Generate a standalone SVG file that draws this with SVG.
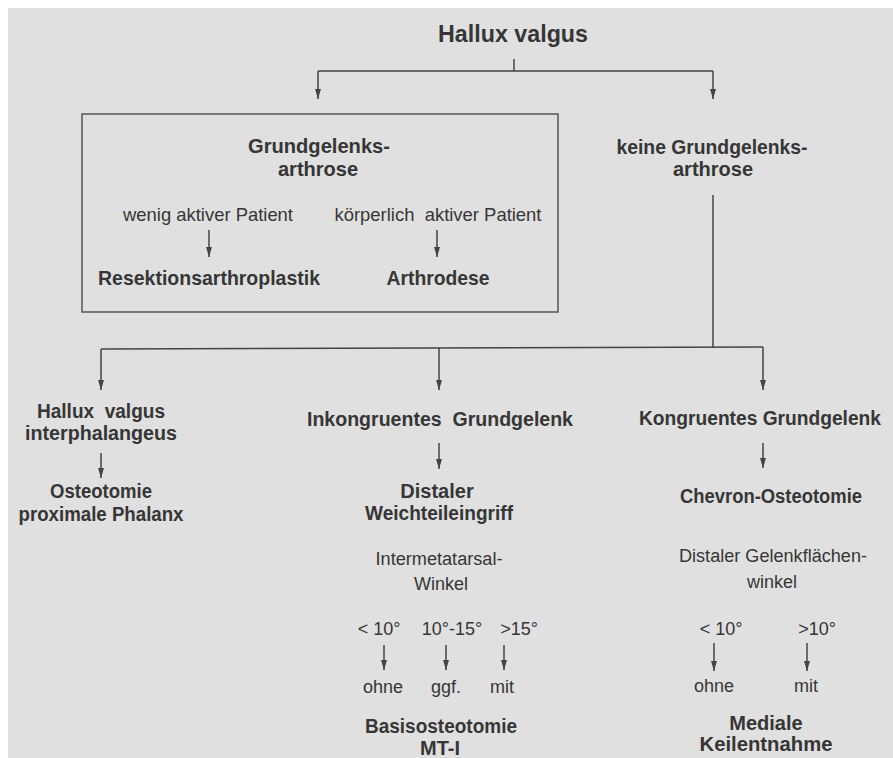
<svg xmlns="http://www.w3.org/2000/svg" width="893" height="758" viewBox="0 0 893 758">
<style>
text{font-family:"Liberation Sans",Arial,sans-serif;fill:#363636;text-anchor:middle}
.b{font-weight:bold;font-size:20px}
.bc{font-weight:bold;font-size:21px}
.t{font-weight:bold;font-size:24px}
.r{font-size:18px}
.rc{font-size:19px}
.ln{stroke:#444;stroke-width:1.5;fill:none}
.ar{stroke:#444;stroke-width:1.5;fill:none;marker-end:url(#ah)}
</style>
<defs>
<marker id="ah" viewBox="0 0 10 6" refX="10" refY="3" markerWidth="10" markerHeight="6" orient="auto" markerUnits="userSpaceOnUse">
<path d="M0,0 L10,3 L0,6 z" fill="#444"/>
</marker>
</defs>
<rect x="0" y="0" width="893" height="758" fill="#ffffff"/>
<rect x="8" y="8" width="885" height="750" fill="#e0e0e0"/>

<g id="connectors">
<line class="ln" x1="514" y1="59" x2="514" y2="71"/>
<polyline class="ln" points="318,71 713,71"/>
<line class="ar" x1="318" y1="71" x2="318" y2="99"/>
<line class="ar" x1="713" y1="71" x2="713" y2="99"/>
<line class="ar" x1="209" y1="230" x2="209" y2="257"/>
<line class="ar" x1="437" y1="230" x2="437" y2="257"/>
<line class="ln" x1="713" y1="195" x2="713" y2="348"/>
<line class="ln" x1="101" y1="349" x2="763" y2="347"/>
<line class="ar" x1="101" y1="349" x2="101" y2="390"/>
<line class="ar" x1="439" y1="348" x2="439" y2="390"/>
<line class="ar" x1="763" y1="347" x2="763" y2="390"/>
<line class="ar" x1="101" y1="453" x2="101" y2="478"/>
<line class="ar" x1="439" y1="443" x2="439" y2="469"/>
<line class="ar" x1="763" y1="443" x2="763" y2="468"/>
<line class="ar" x1="384" y1="645" x2="384" y2="670"/>
<line class="ar" x1="446" y1="645" x2="446" y2="670"/>
<line class="ar" x1="504" y1="645" x2="504" y2="670"/>
<line class="ar" x1="714" y1="643" x2="714" y2="671"/>
<line class="ar" x1="807" y1="643" x2="807" y2="671"/>
</g>

<g id="root"><text class="t" x="513" y="42" textLength="150" lengthAdjust="spacingAndGlyphs">Hallux valgus</text></g>

<g id="arthrose-box">
<rect x="82" y="114" width="476" height="198" fill="none" stroke="#555" stroke-width="1.5"/>
<text class="bc" x="319" y="153" textLength="142" lengthAdjust="spacingAndGlyphs">Grundgelenks-</text>
<text class="bc" x="318" y="176" textLength="80" lengthAdjust="spacingAndGlyphs">arthrose</text>
</g>
<g id="wenig-aktiv"><text class="rc" x="208" y="221" textLength="170" lengthAdjust="spacingAndGlyphs">wenig aktiver Patient</text></g>
<g id="koerperlich-aktiv"><text class="rc" x="438" y="221" textLength="207" lengthAdjust="spacingAndGlyphs" xml:space="preserve">körperlich  aktiver Patient</text></g>
<g id="resektion"><text class="bc" x="209" y="285" textLength="222" lengthAdjust="spacingAndGlyphs">Resektionsarthroplastik</text></g>
<g id="arthrodese"><text class="bc" x="438" y="285" textLength="103" lengthAdjust="spacingAndGlyphs">Arthrodese</text></g>

<g id="keine-arthrose">
<text class="bc" x="712" y="154" textLength="191" lengthAdjust="spacingAndGlyphs">keine Grundgelenks-</text>
<text class="bc" x="713" y="176" textLength="80" lengthAdjust="spacingAndGlyphs">arthrose</text>
</g>

<g id="hv-interphalangeus">
<text class="b" x="101" y="418" textLength="128" lengthAdjust="spacingAndGlyphs" xml:space="preserve">Hallux  valgus</text>
<text class="b" x="101" y="440" textLength="152" lengthAdjust="spacingAndGlyphs">interphalangeus</text>
</g>
<g id="osteotomie-phalanx">
<text class="b" x="101" y="498" textLength="102" lengthAdjust="spacingAndGlyphs">Osteotomie</text>
<text class="b" x="101" y="521" textLength="165" lengthAdjust="spacingAndGlyphs">proximale Phalanx</text>
</g>

<g id="inkongruent"><text class="b" x="440" y="426" textLength="266" lengthAdjust="spacingAndGlyphs" xml:space="preserve">Inkongruentes  Grundgelenk</text></g>
<g id="weichteil">
<text class="b" x="437" y="498">Distaler</text>
<text class="b" x="439" y="520" textLength="148" lengthAdjust="spacingAndGlyphs">Weichteileingriff</text>
</g>
<g id="im-winkel">
<text class="r" x="439" y="565" textLength="127" lengthAdjust="spacingAndGlyphs">Intermetatarsal-</text>
<text class="r" x="441" y="590">Winkel</text>
</g>
<g id="lt10a"><text class="r" x="379" y="635">&lt; 10°</text></g>
<g id="r10-15"><text class="r" x="452" y="635">10°-15°</text></g>
<g id="gt15"><text class="r" x="519" y="635">&gt;15°</text></g>
<g id="ohne-a"><text class="r" x="383" y="693">ohne</text></g>
<g id="ggf"><text class="r" x="446" y="693">ggf.</text></g>
<g id="mit-a"><text class="r" x="502" y="693">mit</text></g>
<g id="basisosteotomie">
<text class="b" x="441" y="733" textLength="152" lengthAdjust="spacingAndGlyphs">Basisosteotomie</text>
<text class="b" x="440" y="755">MT-I</text>
</g>

<g id="kongruent"><text class="b" x="760" y="425" textLength="242" lengthAdjust="spacingAndGlyphs">Kongruentes Grundgelenk</text></g>
<g id="chevron"><text class="b" x="771" y="503" textLength="182" lengthAdjust="spacingAndGlyphs">Chevron-Osteotomie</text></g>
<g id="dgf-winkel">
<text class="r" x="773" y="562" textLength="188" lengthAdjust="spacingAndGlyphs">Distaler Gelenkflächen-</text>
<text class="r" x="772" y="588">winkel</text>
</g>
<g id="lt10b"><text class="r" x="721" y="635">&lt; 10°</text></g>
<g id="gt10"><text class="r" x="817" y="635">&gt;10°</text></g>
<g id="ohne-b"><text class="r" x="714" y="692">ohne</text></g>
<g id="mit-b"><text class="r" x="806" y="692">mit</text></g>
<g id="keilentnahme">
<text class="b" x="766" y="730">Mediale</text>
<text class="b" x="766" y="751" textLength="133" lengthAdjust="spacingAndGlyphs">Keilentnahme</text>
</g>
</svg>
